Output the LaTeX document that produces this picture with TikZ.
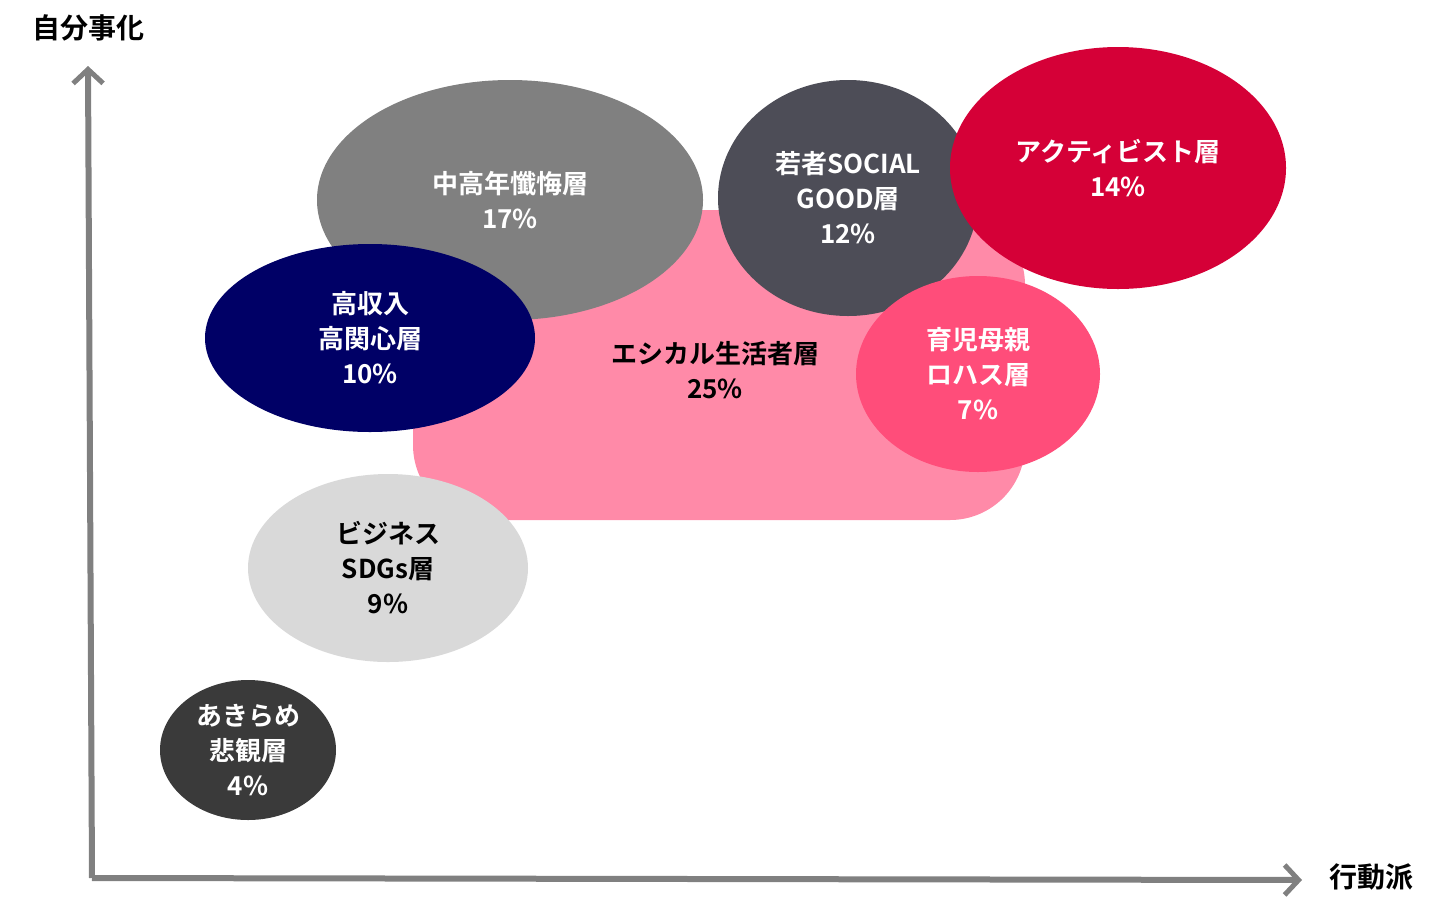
\documentclass[tikz,border=0pt]{standalone}
\usepackage{fontspec}
\setmainfont{Noto Sans CJK JP}[BoldFont={Noto Sans CJK JP Bold}]
\usetikzlibrary{positioning,arrows.meta,shapes.geometric}
\definecolor{ethpink}{HTML}{FF8AA8}
\definecolor{midgray}{HTML}{808080}
\definecolor{navyseg}{HTML}{000066}
\definecolor{darkslate}{HTML}{4D4D57}
\definecolor{actred}{HTML}{D50037}
\definecolor{momrose}{HTML}{FF4D7A}
\definecolor{lightgr}{HTML}{D9D9D9}
\definecolor{giveup}{HTML}{3A3A3A}
\tikzset{
  seg/.style={ellipse, inner sep=0pt, align=center, text=white,
     font=\fontsize{26}{35}\selectfont\bfseries},
  axis/.style={draw=midgray, line width=6pt, -{Straight Barb[length=14pt,width=30pt,line width=5pt]}},
  axlabel/.style={font=\fontsize{28}{32}\selectfont\bfseries}
}
\begin{document}
\begin{tikzpicture}[x=1pt,y=-1pt]
  \useasboundingbox (0,0) rectangle (1442,919);
  % ethical base
  \fill[ethpink, rounded corners=75pt] (413,210) rectangle (1025,520);
  \node[font=\fontsize{26}{35}\selectfont\bfseries, align=center] (ethical) at (715,370) {エシカル生活者層\\25\%};
  % segments
  \node[seg, fill=midgray, minimum width=386pt, minimum height=240pt] (senior) at (510,200) {中高年懺悔層\\17\%};
  \node[seg, fill=navyseg, minimum width=330pt, minimum height=188pt] (rich) at (370,338) {高収入\\高関心層\\10\%};
  \node[seg, fill=darkslate, minimum width=260pt, minimum height=236pt] (social) at (848,198) {若者SOCIAL\\GOOD層\\12\%};
  \node[seg, fill=actred, minimum width=336pt, minimum height=242pt] (activist) at (1118,168) {アクティビスト層\\14\%};
  \node[seg, fill=momrose, minimum width=244pt, minimum height=196pt] (mom) at (978,374) {育児母親\\ロハス層\\7\%};
  \node[seg, fill=lightgr, text=black, minimum width=280pt, minimum height=188pt] (biz) at (388,568) {ビジネス\\SDGs層\\9\%};
  \node[seg, fill=giveup, minimum width=176pt, minimum height=140pt] (giveup) at (248,750) {あきらめ\\悲観層\\4\%};
  % axes
  \coordinate (origin) at (92,878);
  \coordinate (ytop) at (88,66);
  \coordinate (xend) at (1302,880);
  \draw[axis] (origin) -- (ytop);
  \draw[axis] (origin) -- (xend);
  \node[axlabel] (ylab) at (88,28) {自分事化};
  \node[axlabel] (xlab) at (1371,877) {行動派};
\end{tikzpicture}
\end{document}
